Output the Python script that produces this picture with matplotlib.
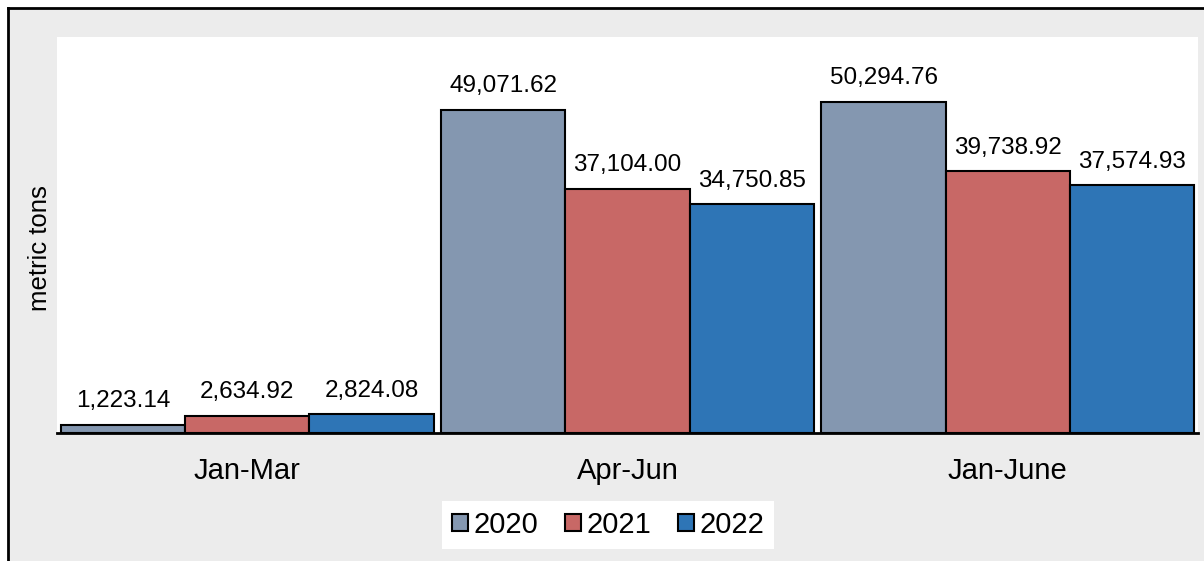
import matplotlib.pyplot as plt
import numpy as np
from matplotlib.lines import Line2D
from matplotlib.patches import Rectangle

categories = ["Jan-Mar", "Apr-Jun", "Jan-June"]
years = ["2020", "2021", "2022"]
values_2020 = [1223.14, 49071.62, 50294.76]
values_2021 = [2634.92, 37104.00, 39738.92]
values_2022 = [2824.08, 34750.85, 37574.93]
colors = ["#8497b0", "#c86866", "#2e75b6"]

plt.rcParams["font.family"] = ["Liberation Sans", "DejaVu Sans"]

fig = plt.figure(figsize=(12.04, 5.61), dpi=100)
fig.patch.set_facecolor("white")
# gray chart area with black border on top/left
fig.add_artist(Rectangle((8 / 1204, 0), 1, 1 - 8 / 561, transform=fig.transFigure,
                         facecolor="#ececec", edgecolor="none", zorder=-2))
fig.add_artist(Line2D([8 / 1204, 1], [1 - 8 / 561, 1 - 8 / 561], transform=fig.transFigure,
                      color="black", lw=2))
fig.add_artist(Line2D([8 / 1204, 8 / 1204], [0, 1 - 8 / 561], transform=fig.transFigure,
                      color="black", lw=2))

ax = fig.add_axes([57 / 1204, (561 - 433) / 561, 1141 / 1204, 396 / 561])
ax.set_facecolor("white")

x = np.arange(len(categories))
w = 0.98 / 3
series = [values_2020, values_2021, values_2022]
for j, (vals, c, yr) in enumerate(zip(series, colors, years)):
    bars = ax.bar(x + (j - 1) * w, vals, width=w, color=c, edgecolor="black",
                  linewidth=1.5, label=yr)
    for b, v in zip(bars, vals):
        ax.annotate(f"{v:,.2f}", (b.get_x() + b.get_width() / 2, v),
                    xytext=(0, 9), textcoords="offset points",
                    ha="center", va="bottom", fontsize=17.5)

ax.set_xlim(-0.5, 2.5)
ax.set_ylim(0, 60100)
ax.set_yticks([])
ax.set_xticks(x)
ax.set_xticklabels(categories, fontsize=21)
ax.tick_params(axis="x", length=0, pad=17)
for s in ["top", "right", "left"]:
    ax.spines[s].set_visible(False)
ax.spines["bottom"].set_linewidth(2)

fig.text(40 / 1204, 1 - 248 / 561, "metric tons", rotation=90, ha="center",
         va="center", fontsize=18.5)

handles = [Rectangle((0, 0), 1, 1, facecolor=c, edgecolor="black", lw=1.5) for c in colors]
leg = fig.legend(handles, years, loc="center", bbox_to_anchor=(608 / 1204, 1 - 525 / 561),
                 ncol=3, fontsize=21, frameon=True, fancybox=False, handlelength=0.55,
                 handleheight=0.55, handletextpad=0.2, columnspacing=0.9,
                 borderpad=0.35, borderaxespad=0)
leg.get_frame().set_edgecolor("none")
leg.get_frame().set_facecolor("white")
leg.get_frame().set_alpha(1)

fig.savefig("out.png", dpi=100, facecolor=fig.get_facecolor())
